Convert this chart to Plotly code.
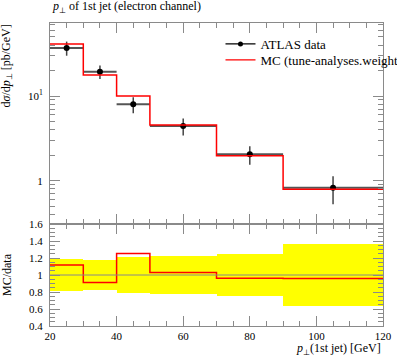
import plotly.graph_objects as go

# ---- data ----
bin_edges = [20, 30, 40, 50, 70, 90, 120]
data_vals = [36.9, 19.4, 7.98, 4.43, 2.05, 0.826]
data_errs = [7.0, 3.5, 1.7, 1.0, 0.51, 0.30]
mc_vals = [41.2, 17.7, 10.0, 4.56, 1.97, 0.793]

x_tick_vals = [20, 40, 60, 80, 100, 120]
y_main_tickvals = [1, 10]
y_main_ticktext = ["1", "10<sup>1</sup>"]
y_main_minor = [0.4, 0.5, 0.6, 0.7, 0.8, 0.9, 2, 3, 4, 5, 6, 7, 8, 9, 20, 30, 40, 50, 60, 70]

centers = [(a + b) / 2 for a, b in zip(bin_edges[:-1], bin_edges[1:])]
half_w = [(b - a) / 2 for a, b in zip(bin_edges[:-1], bin_edges[1:])]
widths = [b - a for a, b in zip(bin_edges[:-1], bin_edges[1:])]
ratio_mc = [m / d for m, d in zip(mc_vals, data_vals)]
rel_err = [e / d for e, d in zip(data_errs, data_vals)]

FONT = "Liberation Serif"
AX = "#8a8a8a"
split = 102 / 303

fig = go.Figure()

# data points with error bars (top panel)
fig.add_trace(go.Scatter(
    x=centers, y=data_vals, mode="markers",
    marker=dict(color="black", size=6),
    error_y=dict(type="data", array=data_errs, color="#444", thickness=1.5, width=0),
    error_x=dict(type="data", array=half_w, color="#555", thickness=2, width=0),
    showlegend=False, xaxis="x", yaxis="y"))

# MC step line (top panel)
fig.add_trace(go.Scatter(
    x=bin_edges, y=mc_vals + [mc_vals[-1]], mode="lines", line_shape="hv",
    line=dict(color="#ff0000", width=1.5), showlegend=False, xaxis="x", yaxis="y"))

# legend entries
fig.add_trace(go.Scatter(x=[None], y=[None], mode="lines+markers", name="ATLAS data",
                         line=dict(color="black", width=1.2), marker=dict(color="black", size=5),
                         xaxis="x", yaxis="y", legend="legend"))
fig.add_trace(go.Scatter(x=[None], y=[None], mode="lines", name="MC (tune-analyses.weights)",
                         line=dict(color="#ff0000", width=1.2), xaxis="x", yaxis="y",
                         legend="legend2"))

# ratio band
fig.add_trace(go.Bar(
    x=centers, y=[2 * r for r in rel_err], base=[1 - r for r in rel_err], width=widths,
    marker=dict(color="#ffff00", line=dict(width=0)), showlegend=False,
    xaxis="x2", yaxis="y2"))

# ratio MC step
fig.add_trace(go.Scatter(
    x=bin_edges, y=ratio_mc + [ratio_mc[-1]], mode="lines", line_shape="hv",
    line=dict(color="#ff0000", width=1.5), showlegend=False, xaxis="x2", yaxis="y2"))

fig.add_shape(type="line", xref="x2 domain", yref="y2", x0=0, x1=1, y0=1, y1=1,
              line=dict(color="#888", width=1), layer="above")

common_x = dict(range=[20, 120], tickvals=x_tick_vals, ticks="inside", ticklen=10,
                tickcolor=AX, showline=True, linecolor=AX, linewidth=1, mirror="ticks",
                showgrid=False, zeroline=False,
                minor=dict(dtick=5, tick0=20, ticks="inside", ticklen=5, tickcolor=AX))

leg_common = dict(xanchor="left", yanchor="middle", bgcolor="rgba(0,0,0,0)",
                  font=dict(size=13), itemwidth=30)

fig.update_layout(
    width=397, height=358,
    margin=dict(l=50, r=14, t=23, b=32, autoexpand=False),
    paper_bgcolor="white", plot_bgcolor="white",
    font=dict(family=FONT, size=12, color="black"),
    barmode="overlay", bargap=0,
    xaxis=dict(**common_x, anchor="y", showticklabels=False),
    yaxis=dict(type="log", range=[-0.511, 1.862], domain=[split, 1], anchor="x",
               tickvals=y_main_tickvals, ticktext=y_main_ticktext,
               ticks="inside", ticklen=10, tickcolor=AX, showline=True, linecolor=AX,
               mirror="ticks", showgrid=False, zeroline=False, ticklabelstandoff=4,
               tickfont=dict(size=11),
               minor=dict(tickvals=y_main_minor, ticks="inside", ticklen=5, tickcolor=AX)),
    xaxis2=dict(**common_x, anchor="y2", tickfont=dict(size=11), ticklabelstandoff=0),
    yaxis2=dict(range=[0.4, 1.6], domain=[0, split], anchor="x2", dtick=0.2, tick0=0.4,
                ticks="inside", ticklen=10, tickcolor=AX, showline=True, linecolor=AX,
                mirror="ticks", showgrid=False, zeroline=False, ticklabelstandoff=4,
                tickfont=dict(size=11),
                minor=dict(dtick=0.05, tick0=0.4, ticks="inside", ticklen=5, tickcolor=AX)),
    legend=dict(x=0.512, y=1 - 21 / 303, **leg_common),
    legend2=dict(x=0.512, y=1 - 37 / 303, **leg_common),
    showlegend=True,
)

fig.add_annotation(text="<i>p</i><sub>⊥</sub> of 1st jet (electron channel)", xref="paper",
                   yref="paper", x=0, y=1, yshift=6, xanchor="left", yanchor="bottom",
                   showarrow=False, font=dict(size=12))
fig.add_annotation(text="<i>p</i><sub>⊥</sub>(1st jet) [GeV]", xref="paper", yref="paper",
                   x=1, y=0, yshift=-23, xanchor="right", yanchor="middle",
                   showarrow=False, font=dict(size=12))
fig.add_annotation(text="d<i>σ</i>/d<i>p</i><sub>⊥</sub> [pb/GeV]", xref="paper", yref="paper",
                   x=0, xshift=-34, y=1, xanchor="right", yanchor="top", textangle=-90,
                   showarrow=False, font=dict(size=12))
fig.add_annotation(text="MC/data", xref="paper", yref="paper",
                   x=0, xshift=-34, y=split / 2, xanchor="right", yanchor="middle", textangle=-90,
                   showarrow=False, font=dict(size=12))

fig.write_html("out.html", config={"displayModeBar": False},
               post_script="document.body.style.margin='0';document.body.style.overflow='hidden';")
